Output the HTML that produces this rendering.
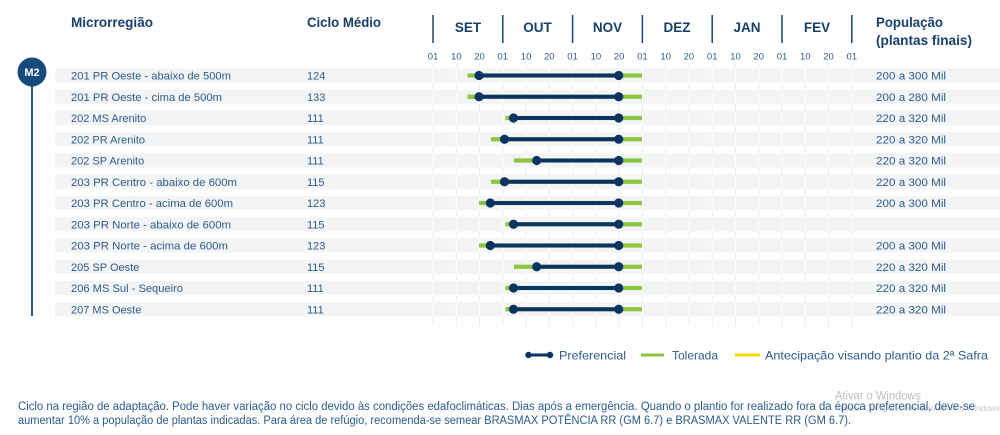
<!DOCTYPE html>
<html><head><meta charset="utf-8"><style>
html,body{margin:0;padding:0;background:#fff;width:1000px;height:435px;overflow:hidden}
svg{display:block}
text{font-family:"Liberation Sans",sans-serif}
</style></head><body>
<svg width="1000" height="435" viewBox="0 0 1000 435" xmlns="http://www.w3.org/2000/svg">
<defs>
<g id="vg">
<line x1="433" y1="64" x2="433" y2="326"/><line x1="456.3" y1="64" x2="456.3" y2="326"/><line x1="479.5" y1="64" x2="479.5" y2="326"/>
<line x1="502.8" y1="64" x2="502.8" y2="326"/><line x1="526.1" y1="64" x2="526.1" y2="326"/><line x1="549.3" y1="64" x2="549.3" y2="326"/>
<line x1="572.6" y1="64" x2="572.6" y2="326"/><line x1="595.9" y1="64" x2="595.9" y2="326"/><line x1="619.1" y1="64" x2="619.1" y2="326"/>
<line x1="642.4" y1="64" x2="642.4" y2="326"/><line x1="665.7" y1="64" x2="665.7" y2="326"/><line x1="688.9" y1="64" x2="688.9" y2="326"/>
<line x1="712.2" y1="64" x2="712.2" y2="326"/><line x1="735.5" y1="64" x2="735.5" y2="326"/><line x1="758.7" y1="64" x2="758.7" y2="326"/>
<line x1="782" y1="64" x2="782" y2="326"/><line x1="805.3" y1="64" x2="805.3" y2="326"/><line x1="828.5" y1="64" x2="828.5" y2="326"/>
<line x1="851.8" y1="64" x2="851.8" y2="326"/>
</g>
<clipPath id="stripesClip">
<rect x="55" y="68.5" width="945" height="14"/>
<rect x="55" y="89.75" width="945" height="14"/>
<rect x="55" y="111" width="945" height="14"/>
<rect x="55" y="132.25" width="945" height="14"/>
<rect x="55" y="153.5" width="945" height="14"/>
<rect x="55" y="174.75" width="945" height="14"/>
<rect x="55" y="196" width="945" height="14"/>
<rect x="55" y="217.25" width="945" height="14"/>
<rect x="55" y="238.5" width="945" height="14"/>
<rect x="55" y="259.75" width="945" height="14"/>
<rect x="55" y="281" width="945" height="14"/>
<rect x="55" y="302.25" width="945" height="14"/>
</clipPath>
</defs>
<rect width="1000" height="435" fill="#fff"/>
<!-- gray grid (visible in gaps) -->
<use href="#vg" stroke="#ebebeb" stroke-width="1"/>
<!-- stripes -->
<g fill="#f3f4f5">
<rect x="55" y="68.5" width="945" height="14"/>
<rect x="55" y="89.75" width="945" height="14"/>
<rect x="55" y="111" width="945" height="14"/>
<rect x="55" y="132.25" width="945" height="14"/>
<rect x="55" y="153.5" width="945" height="14"/>
<rect x="55" y="174.75" width="945" height="14"/>
<rect x="55" y="196" width="945" height="14"/>
<rect x="55" y="217.25" width="945" height="14"/>
<rect x="55" y="238.5" width="945" height="14"/>
<rect x="55" y="259.75" width="945" height="14"/>
<rect x="55" y="281" width="945" height="14"/>
<rect x="55" y="302.25" width="945" height="14"/>
</g>
<!-- white grid inside stripes -->
<g clip-path="url(#stripesClip)"><use href="#vg" stroke="#ffffff" stroke-width="1"/></g>
<!-- headers -->
<g fill="#173f6a" font-weight="bold" font-size="13.5">
<text x="71" y="27" textLength="82" lengthAdjust="spacingAndGlyphs">Microrregião</text>
<text x="307" y="27" textLength="74" lengthAdjust="spacingAndGlyphs">Ciclo Médio</text>
<text x="876" y="27" textLength="67" lengthAdjust="spacingAndGlyphs">População</text>
<text x="876" y="45" textLength="96" lengthAdjust="spacingAndGlyphs">(plantas finais)</text>
</g>
<g fill="#173f6a" font-weight="bold" font-size="13.5" text-anchor="middle">
<text x="468" y="32">SET</text>
<text x="537.5" y="32">OUT</text>
<text x="607.5" y="32">NOV</text>
<text x="677" y="32">DEZ</text>
<text x="747" y="32">JAN</text>
<text x="817" y="32">FEV</text>
</g>
<g stroke="#1d4670" stroke-width="1.5">
<line x1="433" y1="15" x2="433" y2="43"/><line x1="502.8" y1="15" x2="502.8" y2="43"/><line x1="572.6" y1="15" x2="572.6" y2="43"/>
<line x1="642.4" y1="15" x2="642.4" y2="43"/><line x1="712.2" y1="15" x2="712.2" y2="43"/><line x1="782" y1="15" x2="782" y2="43"/>
<line x1="851.8" y1="15" x2="851.8" y2="43"/>
</g>
<g fill="#2b5b8c" font-size="9.5" text-anchor="middle">
<text x="433" y="59.5">01</text><text x="456.3" y="59.5">10</text><text x="479.5" y="59.5">20</text>
<text x="502.8" y="59.5">01</text><text x="526.1" y="59.5">10</text><text x="549.3" y="59.5">20</text>
<text x="572.6" y="59.5">01</text><text x="595.9" y="59.5">10</text><text x="619.1" y="59.5">20</text>
<text x="642.4" y="59.5">01</text><text x="665.7" y="59.5">10</text><text x="688.9" y="59.5">20</text>
<text x="712.2" y="59.5">01</text><text x="735.5" y="59.5">10</text><text x="758.7" y="59.5">20</text>
<text x="782" y="59.5">01</text><text x="805.3" y="59.5">10</text><text x="828.5" y="59.5">20</text>
<text x="851.8" y="59.5">01</text>
</g>
<!-- M2 -->
<line x1="32" y1="80" x2="32" y2="316" stroke="#2a5d8e" stroke-width="2"/>
<circle cx="32" cy="72" r="14.5" fill="#154a7c"/>
<text x="32" y="76" fill="#fff" font-size="11" font-weight="bold" text-anchor="middle">M2</text>
<!-- row labels -->
<g fill="#2b5b8c" font-size="11">
<text x="71" y="79.5" textLength="160" lengthAdjust="spacingAndGlyphs">201 PR Oeste - abaixo de 500m</text>
<text x="71" y="100.75" textLength="151" lengthAdjust="spacingAndGlyphs">201 PR Oeste - cima de 500m</text>
<text x="71" y="122">202 MS Arenito</text>
<text x="71" y="143.25">202 PR Arenito</text>
<text x="71" y="164.5">202 SP Arenito</text>
<text x="71" y="185.75" textLength="166" lengthAdjust="spacingAndGlyphs">203 PR Centro - abaixo de 600m</text>
<text x="71" y="207" textLength="162" lengthAdjust="spacingAndGlyphs">203 PR Centro - acima de 600m</text>
<text x="71" y="228.25" textLength="160" lengthAdjust="spacingAndGlyphs">203 PR Norte - abaixo de 600m</text>
<text x="71" y="249.5" textLength="157" lengthAdjust="spacingAndGlyphs">203 PR Norte - acima de 600m</text>
<text x="71" y="270.75">205 SP Oeste</text>
<text x="71" y="292" textLength="112" lengthAdjust="spacingAndGlyphs">206 MS Sul - Sequeiro</text>
<text x="71" y="313.25">207 MS Oeste</text>
</g>
<g fill="#2b5b8c" font-size="11">
<text x="307" y="79.5">124</text><text x="307" y="100.75">133</text><text x="307" y="122">111</text>
<text x="307" y="143.25">111</text><text x="307" y="164.5">111</text><text x="307" y="185.75">115</text>
<text x="307" y="207">123</text><text x="307" y="228.25">115</text><text x="307" y="249.5">123</text>
<text x="307" y="270.75">115</text><text x="307" y="292">111</text><text x="307" y="313.25">111</text>
</g>
<g fill="#2b5b8c" font-size="11">
<text x="876" y="79.5" textLength="70" lengthAdjust="spacingAndGlyphs">200 a 300 Mil</text>
<text x="876" y="100.75" textLength="70" lengthAdjust="spacingAndGlyphs">200 a 280 Mil</text>
<text x="876" y="122" textLength="70" lengthAdjust="spacingAndGlyphs">220 a 320 Mil</text>
<text x="876" y="143.25" textLength="70" lengthAdjust="spacingAndGlyphs">220 a 320 Mil</text>
<text x="876" y="164.5" textLength="70" lengthAdjust="spacingAndGlyphs">220 a 320 Mil</text>
<text x="876" y="185.75" textLength="70" lengthAdjust="spacingAndGlyphs">220 a 300 Mil</text>
<text x="876" y="207" textLength="70" lengthAdjust="spacingAndGlyphs">200 a 300 Mil</text>
<text x="876" y="249.5" textLength="70" lengthAdjust="spacingAndGlyphs">200 a 300 Mil</text>
<text x="876" y="270.75" textLength="70" lengthAdjust="spacingAndGlyphs">220 a 320 Mil</text>
<text x="876" y="292" textLength="70" lengthAdjust="spacingAndGlyphs">220 a 320 Mil</text>
<text x="876" y="313.25" textLength="70" lengthAdjust="spacingAndGlyphs">220 a 320 Mil</text>
</g>
<!-- bars: green tolerated -->
<g stroke="#8cc63e" stroke-width="4.2">
<line x1="467.5" y1="75.5" x2="642" y2="75.5"/>
<line x1="467.5" y1="96.75" x2="642" y2="96.75"/>
<line x1="505.5" y1="118" x2="642" y2="118"/>
<line x1="491" y1="139.25" x2="642" y2="139.25"/>
<line x1="514" y1="160.5" x2="642" y2="160.5"/>
<line x1="491" y1="181.75" x2="642" y2="181.75"/>
<line x1="479" y1="203" x2="642" y2="203"/>
<line x1="505.5" y1="224.25" x2="642" y2="224.25"/>
<line x1="479" y1="245.5" x2="642" y2="245.5"/>
<line x1="514" y1="266.75" x2="642" y2="266.75"/>
<line x1="505.5" y1="288" x2="642" y2="288"/>
<line x1="505.5" y1="309.25" x2="642" y2="309.25"/>
</g>
<!-- navy preferred -->
<g stroke="#0b3462" stroke-width="4">
<line x1="479" y1="75.5" x2="618.7" y2="75.5"/>
<line x1="479" y1="96.75" x2="618.7" y2="96.75"/>
<line x1="513.5" y1="118" x2="618.7" y2="118"/>
<line x1="504.5" y1="139.25" x2="618.7" y2="139.25"/>
<line x1="536.7" y1="160.5" x2="618.7" y2="160.5"/>
<line x1="504.5" y1="181.75" x2="618.7" y2="181.75"/>
<line x1="490.3" y1="203" x2="618.7" y2="203"/>
<line x1="513.5" y1="224.25" x2="618.7" y2="224.25"/>
<line x1="490.3" y1="245.5" x2="618.7" y2="245.5"/>
<line x1="536.7" y1="266.75" x2="618.7" y2="266.75"/>
<line x1="513.5" y1="288" x2="618.7" y2="288"/>
<line x1="513.5" y1="309.25" x2="618.7" y2="309.25"/>
</g>
<g fill="#0b3462">
<circle cx="479" cy="75.5" r="4.6"/><circle cx="618.7" cy="75.5" r="4.6"/>
<circle cx="479" cy="96.75" r="4.6"/><circle cx="618.7" cy="96.75" r="4.6"/>
<circle cx="513.5" cy="118" r="4.6"/><circle cx="618.7" cy="118" r="4.6"/>
<circle cx="504.5" cy="139.25" r="4.6"/><circle cx="618.7" cy="139.25" r="4.6"/>
<circle cx="536.7" cy="160.5" r="4.6"/><circle cx="618.7" cy="160.5" r="4.6"/>
<circle cx="504.5" cy="181.75" r="4.6"/><circle cx="618.7" cy="181.75" r="4.6"/>
<circle cx="490.3" cy="203" r="4.6"/><circle cx="618.7" cy="203" r="4.6"/>
<circle cx="513.5" cy="224.25" r="4.6"/><circle cx="618.7" cy="224.25" r="4.6"/>
<circle cx="490.3" cy="245.5" r="4.6"/><circle cx="618.7" cy="245.5" r="4.6"/>
<circle cx="536.7" cy="266.75" r="4.6"/><circle cx="618.7" cy="266.75" r="4.6"/>
<circle cx="513.5" cy="288" r="4.6"/><circle cx="618.7" cy="288" r="4.6"/>
<circle cx="513.5" cy="309.25" r="4.6"/><circle cx="618.7" cy="309.25" r="4.6"/>
</g>
<!-- legend -->
<line x1="528" y1="355" x2="550" y2="355" stroke="#0b3462" stroke-width="3"/>
<circle cx="528.5" cy="355" r="3.2" fill="#0b3462"/><circle cx="550" cy="355" r="3.2" fill="#0b3462"/>
<text x="559" y="359.5" fill="#2b5b8c" font-size="12" textLength="67" lengthAdjust="spacingAndGlyphs">Preferencial</text>
<line x1="641" y1="355" x2="664" y2="355" stroke="#8cc63e" stroke-width="3"/>
<text x="672" y="359.5" fill="#2b5b8c" font-size="12" textLength="46" lengthAdjust="spacingAndGlyphs">Tolerada</text>
<line x1="735" y1="355" x2="760" y2="355" stroke="#f5d800" stroke-width="3"/>
<text x="765" y="359.5" fill="#2b5b8c" font-size="12" textLength="223" lengthAdjust="spacingAndGlyphs">Antecipação visando plantio da 2ª Safra</text>
<!-- watermark -->
<text x="835" y="399.5" fill="#bdbdbd" font-size="12" textLength="86" lengthAdjust="spacingAndGlyphs">Ativar o Windows</text>
<text x="835" y="411" fill="#c9c9c9" font-size="8" textLength="165" lengthAdjust="spacingAndGlyphs">Acesse Configurações para ativar o Windows</text>
<!-- footer -->
<g fill="#2b5b8c" font-size="11.5">
<text x="18" y="410" textLength="957" lengthAdjust="spacingAndGlyphs">Ciclo na região de adaptação. Pode haver variação no ciclo devido às condições edafoclimáticas. Dias após a emergência. Quando o plantio for realizado fora da época preferencial, deve-se</text>
<text x="18" y="424" textLength="833" lengthAdjust="spacingAndGlyphs">aumentar 10% a população de plantas indicadas. Para área de refúgio, recomenda-se semear BRASMAX POTÊNCIA RR (GM 6.7) e BRASMAX VALENTE RR (GM 6.7).</text>
</g>
</svg>
</body></html>
